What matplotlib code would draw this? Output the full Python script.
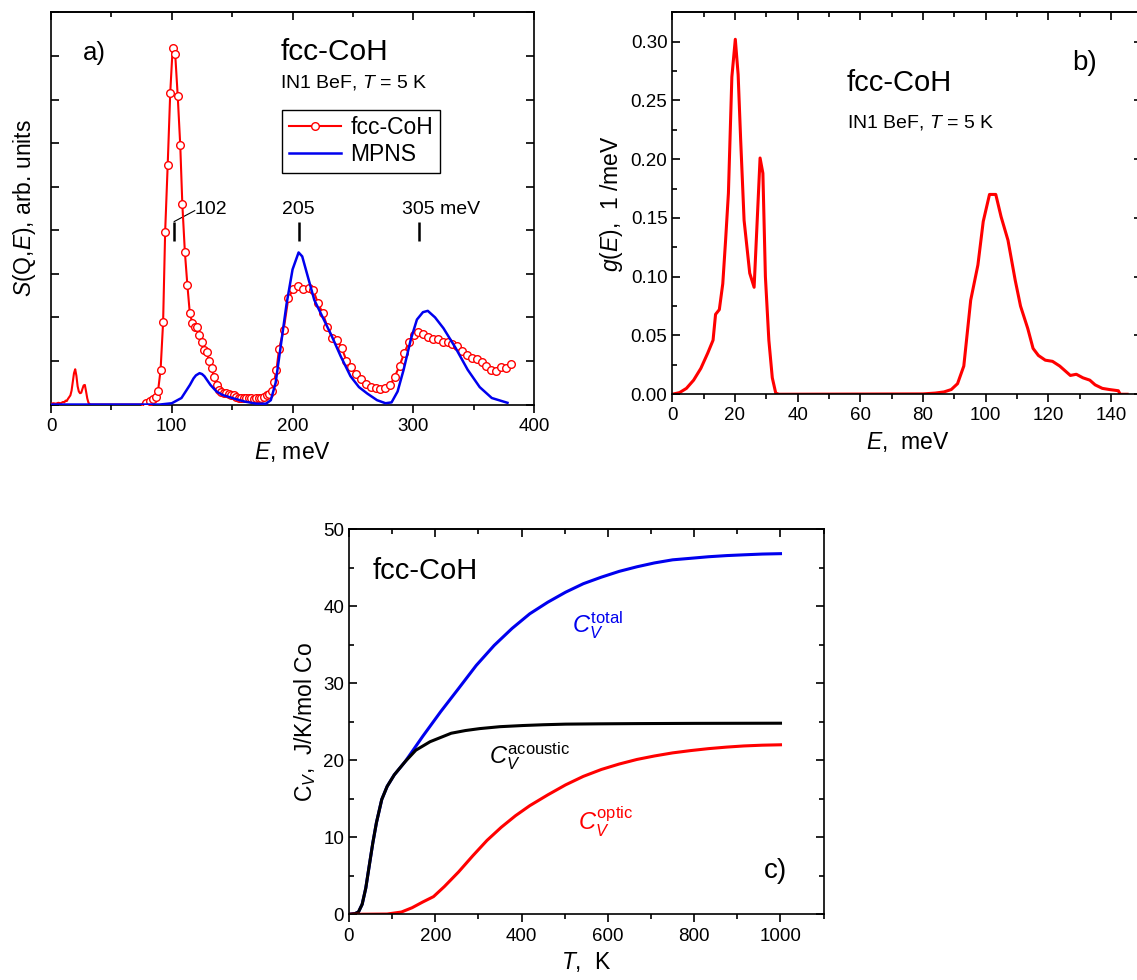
import numpy as np
import matplotlib
matplotlib.use('Agg')
import matplotlib.pyplot as plt
from matplotlib.ticker import MultipleLocator, NullFormatter, NullLocator, FormatStrFormatter

plt.rcParams['font.family'] = ['Liberation Sans', 'DejaVu Sans']
plt.rcParams['mathtext.fontset'] = 'custom'
plt.rcParams['mathtext.rm'] = 'Liberation Sans'
plt.rcParams['mathtext.it'] = 'Liberation Sans:italic'
plt.rcParams['mathtext.bf'] = 'Liberation Sans:bold'

# ---- panel a: S(Q,E), fcc-CoH (points) ----
e_exp = [77.4, 78.9, 81.8, 84.8, 86.8, 88.6, 90.7, 92.8, 94.5, 96.6, 98.7, 100.7, 102.8,
         104.9, 107.0, 108.7, 110.8, 112.9, 114.9, 117.0, 118.8, 120.8, 122.6, 124.7,
         126.7, 128.8, 130.9, 133.0, 135.0, 137.1, 138.8, 140.9, 143.0, 145.0, 147.1,
         149.2, 151.2, 153.3, 155.4, 157.5, 159.5, 161.6, 163.7, 165.7, 167.8, 169.9,
         171.9, 174.0, 176.4, 178.5, 180.5, 182.6, 184.6, 186.7, 188.8, 192.6, 196.5,
         200.6, 204.7, 208.9, 213.3, 217.1, 221.0, 225.1, 228.9, 232.8, 236.9, 240.8,
         244.6, 248.7, 252.6, 256.7, 260.6, 264.7, 268.8, 272.7, 276.8, 280.6, 284.5,
         288.6, 292.5, 296.3, 300.4, 304.3, 308.4, 312.3, 316.4, 320.5, 324.4, 328.5,
         332.4, 336.5, 340.3, 344.5, 348.6, 352.4, 356.6, 360.4, 364.5, 368.4, 372.5,
         376.7, 380.5]
s_exp = [0.0, 0.03, 0.07, 0.13, 0.18, 0.31, 0.79, 1.89, 3.97, 5.50, 7.15, 8.18, 8.05,
         7.08, 5.95, 4.61, 3.51, 2.74, 2.10, 1.87, 1.77, 1.77, 1.60, 1.44,
         1.25, 1.20, 1.01, 0.83, 0.63, 0.45, 0.34, 0.28, 0.26, 0.26, 0.25,
         0.23, 0.21, 0.18, 0.16, 0.15, 0.15, 0.14, 0.14, 0.14, 0.13, 0.15,
         0.16, 0.16, 0.18, 0.21, 0.24, 0.31, 0.51, 0.80, 1.27, 1.71, 2.44,
         2.65, 2.71, 2.65, 2.68, 2.63, 2.33, 2.09, 1.78, 1.53, 1.48, 1.29,
         1.01, 0.87, 0.69, 0.59, 0.47, 0.40, 0.37, 0.36, 0.38, 0.44, 0.63,
         0.89, 1.18, 1.43, 1.60, 1.67, 1.62, 1.56, 1.50, 1.50, 1.44, 1.43,
         1.39, 1.34, 1.24, 1.14, 1.06, 1.05, 0.97, 0.89, 0.80, 0.78, 0.87,
         0.85, 0.92]
# low-energy part of the measured spectrum (line only)
e_low = [0, 2, 4, 6, 8, 10, 11, 12, 13, 14, 15, 16, 17, 18, 19, 20, 21, 22, 23, 24,
         25, 26, 27, 28, 29, 30, 31, 32, 33, 78]
s_low = [0.02, 0.03, 0.02, 0.04, 0.03, 0.06, 0.05, 0.09, 0.08, 0.13, 0.17, 0.21, 0.32,
         0.52, 0.72, 0.81, 0.66, 0.42, 0.30, 0.26, 0.27, 0.36, 0.44, 0.45, 0.30, 0.14,
         0.04, 0.01, 0.0, 0.0]
# MPNS calculation
e_mpns = [0, 90, 100, 108, 115, 118, 120, 123, 125, 127, 132, 137, 142, 150, 160, 170,
          178, 182, 186, 190, 195, 200, 205, 208, 212, 218, 225, 232, 240, 248, 255, 262,
          270, 277, 282, 287, 292, 298, 303, 308, 312, 318, 325, 335, 345, 355, 365, 378]
s_mpns = [0, 0, 0.03, 0.15, 0.45, 0.60, 0.67, 0.72, 0.70, 0.65, 0.45, 0.30, 0.22, 0.15,
          0.07, 0.02, 0.02, 0.10, 0.50, 1.30, 2.30, 3.10, 3.49, 3.40, 3.00, 2.40, 2.00,
          1.60, 1.10, 0.65, 0.40, 0.25, 0.10, 0.03, 0.05, 0.30, 0.80, 1.50, 1.95, 2.12,
          2.15, 2.00, 1.75, 1.30, 0.80, 0.40, 0.15, 0.04]
peaks = [102, 205, 305]
peak_labels = ['102', '205', '305 meV']

# ---- panel b: g(E) ----
e_dos = [0, 2.3, 4.5, 6.8, 9.1, 11.3, 13.0, 13.8, 15.0, 16.1, 17.0, 17.9, 19.0, 20.1,
         21.0, 21.8, 22.9, 24.7, 26.1, 26.9, 28.0, 28.9, 29.7, 30.8, 31.9, 33.0, 34.0,
         80.0, 83.9, 86.7, 89.0, 91.0, 93.0, 95.2, 97.5, 99.2, 101.2, 103.2, 104.9,
         107.1, 109.4, 111.1, 113.4, 115.1, 116.8, 119.0, 121.3, 123.6, 127.0, 128.9,
         131.0, 133.2, 134.9, 137.2, 139.5, 142.3, 142.9, 145.1]
g_dos = [0, 0.0014, 0.005, 0.012, 0.022, 0.035, 0.046, 0.068, 0.072, 0.094, 0.131,
         0.171, 0.270, 0.302, 0.272, 0.217, 0.148, 0.103, 0.091, 0.137, 0.201, 0.188,
         0.100, 0.046, 0.014, 0.001, 0.0,
         0.0003, 0.001, 0.002, 0.004, 0.009, 0.024, 0.080, 0.110, 0.147, 0.170, 0.170,
         0.151, 0.131, 0.097, 0.075, 0.056, 0.039, 0.033, 0.029, 0.028, 0.024, 0.016,
         0.017, 0.014, 0.012, 0.008, 0.005, 0.004, 0.003, 0.0, 0.0]

# ---- panel c: heat capacity ----
t_ac = [0, 14, 22, 30.6, 39, 47, 55.4, 63.7, 76, 88.5, 105, 130, 155, 188, 237, 270,
        303, 350, 403, 450, 502, 580, 667.5, 800, 1000]
cv_ac = [0, 0.1, 0.3, 1.3, 3.4, 6.3, 9.3, 11.9, 14.9, 16.6, 18.1, 19.8, 21.3, 22.4,
         23.5, 23.85, 24.1, 24.35, 24.5, 24.6, 24.68, 24.72, 24.75, 24.78, 24.8]
t_tot = [0, 14, 22, 30.6, 39, 47, 55.4, 63.7, 76, 88.5, 105, 130, 171, 212.6, 254, 295,
         336.6, 378, 419, 460.7, 502, 543, 584.8, 626, 667.5, 708, 750, 792, 833, 875,
         915, 958, 1000]
cv_tot = [0, 0.1, 0.3, 1.3, 3.4, 6.3, 9.3, 11.9, 14.9, 16.6, 18.1, 19.8, 23.1, 26.3,
          29.3, 32.3, 34.9, 37.1, 39.0, 40.5, 41.8, 42.9, 43.75, 44.5, 45.1, 45.6, 46.0,
          46.2, 46.4, 46.55, 46.65, 46.75, 46.8]
t_opt = [0, 88.5, 121.6, 146.4, 171, 196, 221, 254, 287, 320, 353, 386, 419, 460.7, 502,
         543, 585, 626, 667.5, 708, 750, 792, 833, 875, 915, 958, 1000]
cv_opt = [0, 0.04, 0.3, 0.86, 1.6, 2.3, 3.6, 5.5, 7.6, 9.6, 11.3, 12.8, 14.1, 15.5, 16.8,
          17.9, 18.8, 19.5, 20.1, 20.55, 20.95, 21.25, 21.5, 21.7, 21.85, 21.95, 22.0]

LW = 1.2
TICK_FS = 13.5
LABEL_FS = 16.5


def setup_axes(ax, xmaj, xmin, ymaj, ymin):
    ax.xaxis.set_major_locator(MultipleLocator(xmaj))
    ax.xaxis.set_minor_locator(MultipleLocator(xmin))
    ax.yaxis.set_major_locator(MultipleLocator(ymaj))
    if ymin:
        ax.yaxis.set_minor_locator(MultipleLocator(ymin))
    else:
        ax.yaxis.set_minor_locator(NullLocator())
    ax.tick_params(axis='x', which='both', direction='out', top=False)
    ax.tick_params(axis='y', which='both', direction='in', left=True, right=True)
    ax.tick_params(which='major', length=6, width=LW, labelsize=TICK_FS)
    ax.tick_params(which='minor', length=3.5, width=LW)
    for s in ax.spines.values():
        s.set_linewidth(LW)
    # top ticks point inwards, bottom ones outwards
    top = ax.secondary_xaxis('top')
    top.xaxis.set_major_locator(MultipleLocator(xmaj))
    top.xaxis.set_minor_locator(MultipleLocator(xmin))
    top.xaxis.set_major_formatter(NullFormatter())
    top.tick_params(which='both', direction='in', width=LW)
    top.tick_params(which='major', length=6)
    top.tick_params(which='minor', length=3.5)
    top.spines['top'].set_linewidth(LW)


fig = plt.figure(figsize=(11.37, 9.8), dpi=100)

# ---------- a) ----------
ax1 = fig.add_axes([0.0449, 0.5872, 0.4248, 0.4002])
ax1.plot(e_low, s_low, color='red', lw=1.5, zorder=3)
l_exp, = ax1.plot(e_exp, s_exp, color='red', lw=1.5, marker='o', ms=5.5, mfc='white',
                  mec='red', mew=1.0, zorder=3)
l_mpns, = ax1.plot(e_mpns, s_mpns, color='#0000ee', lw=1.8, zorder=4)
ax1.set_xlim(0, 400)
ax1.set_ylim(0, 9)
setup_axes(ax1, 100, 50, 1, None)
ax1.yaxis.set_major_formatter(NullFormatter())
ax1.set_xlabel(r'$E$, meV', fontsize=LABEL_FS)
ax1.set_ylabel(r'$S$(Q,$E$), arb. units', fontsize=LABEL_FS, labelpad=6)
ax1.vlines(peaks, 3.75, 4.2, color='black', lw=1.8)
ax1.plot([peaks[0], 119], [4.2, 4.45], color='black', lw=0.8)
ax1.text(119, 4.47, peak_labels[0], fontsize=14, va='center', ha='left')
ax1.text(peaks[1], 4.47, peak_labels[1], fontsize=14, va='center', ha='center')
ax1.text(291, 4.47, peak_labels[2], fontsize=14, va='center', ha='left')
ax1.text(36, 8.07, 'a)', fontsize=18.5, va='center', ha='center')
ax1.text(190, 8.1, 'fcc-CoH', fontsize=21.5, va='center', ha='left')
ax1.text(190, 7.38, r'IN1 BeF, $T$ = 5 K', fontsize=14, va='center', ha='left')
leg = ax1.legend([l_exp, l_mpns], ['fcc-CoH', 'MPNS'], loc='upper left',
                 bbox_to_anchor=(0.4775, 0.752), fontsize=16.5, numpoints=1,
                 handlelength=2.3, handletextpad=0.4, labelspacing=0.15,
                 borderpad=0.3, borderaxespad=0, fancybox=False, framealpha=1)
leg.get_frame().set_edgecolor('black')
leg.get_frame().set_linewidth(1.0)

# ---------- b) ----------
ax2 = fig.add_axes([0.5913, 0.5977, 0.4135, 0.3898])
ax2.plot(e_dos, g_dos, color='red', lw=2.2)
ax2.set_xlim(0, 150)
ax2.set_ylim(0, 0.325)
setup_axes(ax2, 20, 10, 0.05, 0.025)
ax2.yaxis.set_major_formatter(FormatStrFormatter('%.2f'))
ax2.set_xlabel(r'$E$,  meV', fontsize=LABEL_FS)
ax2.set_ylabel(r'$g$($E$),  1 /meV', fontsize=LABEL_FS)
ax2.text(55.6, 0.265, 'fcc-CoH', fontsize=21, va='center', ha='left')
ax2.text(55.6, 0.231, r'IN1 BeF, $T$ = 5 K', fontsize=14, va='center', ha='left')
ax2.text(127.5, 0.282, 'b)', fontsize=20, va='center', ha='left')

# ---------- c) ----------
ax3 = fig.add_axes([0.3069, 0.0670, 0.4175, 0.3932])
ax3.plot(t_tot, cv_tot, color='#0000ee', lw=2.2)
ax3.plot(t_ac, cv_ac, color='black', lw=2.2)
ax3.plot(t_opt, cv_opt, color='red', lw=2.2)
ax3.set_xlim(0, 1100)
ax3.set_ylim(0, 50)
setup_axes(ax3, 200, 100, 10, 5)
ax3.set_xlabel(r'$T$,  K', fontsize=LABEL_FS)
ax3.set_ylabel(r'C$_V$,  J/K/mol Co', fontsize=LABEL_FS)
ax3.text(55, 44.5, 'fcc-CoH', fontsize=21, va='center', ha='left')
ax3.text(517, 37.5, r'$C_V^{\mathrm{total}}$', fontsize=17, color='#0000ee', va='center', ha='left')
ax3.text(324, 20.5, r'$C_V^{\mathrm{acoustic}}$', fontsize=17, color='black', va='center', ha='left')
ax3.text(531, 12.0, r'$C_V^{\mathrm{optic}}$', fontsize=17, color='red', va='center', ha='left')
ax3.text(961, 5.6, 'c)', fontsize=20, va='center', ha='left')

fig.savefig('out.png', dpi=100)
